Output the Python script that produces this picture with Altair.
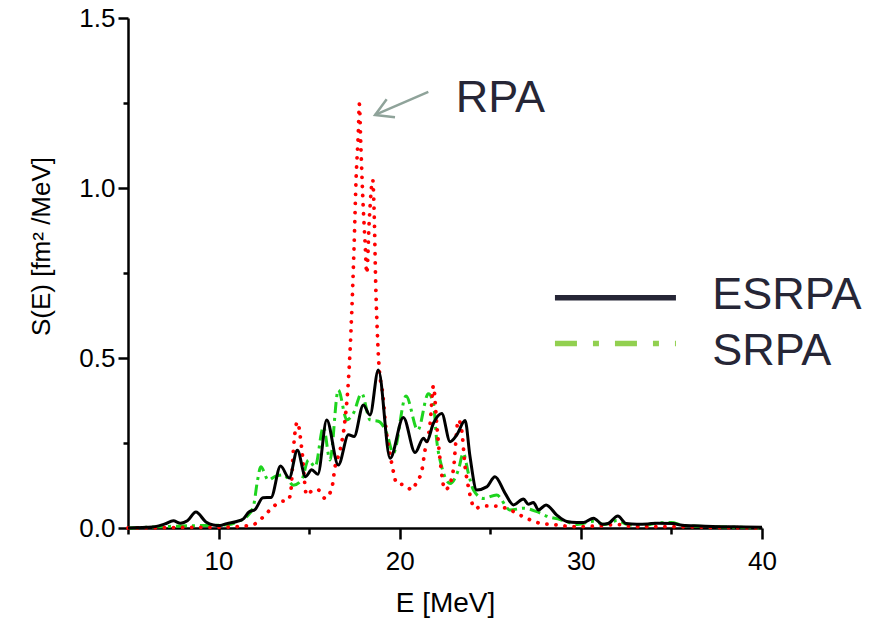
import altair as alt
import pandas as pd

# ---------------- data ----------------
E_ESRPA = [5.0, 6.0, 6.5, 7.04, 7.5, 7.9, 8.28, 8.75, 9.3, 9.71, 10.08, 10.45, 11.0, 11.37,
           11.68, 12.01, 12.45, 12.9, 13.42, 13.9, 14.35, 14.8, 15.14, 15.48, 15.97, 16.61,
           17.17, 17.48, 17.99, 18.36, 18.82, 19.47, 20.2, 20.85, 21.31, 21.49, 21.86, 22.32,
           22.78, 23.15, 23.61, 23.88, 24.25, 24.8, 25.26, 25.82, 26.28, 26.83, 27.1, 27.38,
           27.66, 28.08, 28.67, 29.22, 29.78, 30.15, 30.7, 31.2, 31.5, 32.04, 32.5, 33.1,
           33.7, 34.2, 35.1, 35.6, 36.6, 37.7, 39.0, 40.0]
S_ESRPA = [0.0, 0.002, 0.004, 0.012, 0.021, 0.014, 0.021, 0.047, 0.018, 0.009, 0.007, 0.013,
           0.019, 0.027, 0.047, 0.054, 0.089, 0.09, 0.182, 0.147, 0.229, 0.151, 0.171, 0.158,
           0.318, 0.185, 0.274, 0.269, 0.362, 0.332, 0.465, 0.205, 0.325, 0.222, 0.264, 0.254,
           0.308, 0.337, 0.254, 0.274, 0.316, 0.21, 0.112, 0.121, 0.151, 0.102, 0.068, 0.085,
           0.07, 0.075, 0.053, 0.068, 0.038, 0.019, 0.016, 0.016, 0.029, 0.011, 0.013, 0.035,
           0.013, 0.011, 0.012, 0.014, 0.013, 0.008, 0.006, 0.004, 0.003, 0.002]

E_SRPA = [5.0, 6.0, 7.0, 8.0, 9.0, 10.0, 10.6, 11.1, 11.55, 11.92, 12.15, 12.33, 12.75, 13.1,
          13.6, 14.13, 14.59, 14.96, 15.33, 15.79, 16.15, 16.61, 17.08, 17.44, 17.9, 18.36,
          18.82, 19.28, 19.65, 20.35, 21.0, 21.58, 21.86, 22.04, 22.32, 22.78, 23.24, 23.51,
          23.79, 24.07, 24.62, 25.35, 26.09, 26.83, 27.57, 28.21, 28.85, 29.4, 29.8, 30.7,
          31.3, 32.0, 32.6, 33.5, 34.3, 35.0, 35.6, 36.5, 38.0, 40.0]
S_SRPA = [0.0, 0.002, 0.004, 0.006, 0.007, 0.008, 0.01, 0.02, 0.033, 0.063, 0.14, 0.18,
          0.141, 0.151, 0.156, 0.126, 0.141, 0.2, 0.18, 0.298, 0.2, 0.406, 0.318, 0.337,
          0.396, 0.318, 0.314, 0.279, 0.22, 0.388, 0.288, 0.395, 0.367, 0.259, 0.18, 0.131,
          0.171, 0.22, 0.161, 0.112, 0.087, 0.097, 0.053, 0.058, 0.048, 0.033, 0.025, 0.015,
          0.01, 0.02, 0.01, 0.022, 0.01, 0.008, 0.015, 0.016, 0.008, 0.005, 0.003, 0.0]

E_RPA = [5.0, 7.0, 9.0, 10.0, 11.0, 11.5, 12.01, 12.47, 12.93, 13.39, 13.85, 14.0, 14.13,
         14.35, 14.59, 14.86, 15.23, 15.5, 15.88, 16.25, 16.43, 16.71, 16.98, 17.17, 17.35,
         17.48, 17.59, 17.72, 17.77, 17.85, 17.96, 18.09, 18.18, 18.32, 18.51, 18.6, 18.67,
         18.76, 18.86, 19.06, 19.25, 19.43, 19.65, 19.83, 20.3, 20.67, 20.94, 21.21, 21.4,
         21.68, 21.86, 22.04, 22.23, 22.5, 22.78, 22.96, 23.24, 23.42, 23.61, 23.79, 24.16,
         24.62, 25.08, 25.54, 26.09, 26.83, 27.75, 28.5, 29.6, 31.0, 32.0, 33.0, 35.0, 37.0,
         40.0]
S_RPA = [0.0, 0.001, 0.002, 0.002, 0.004, 0.006, 0.012, 0.033, 0.058, 0.077, 0.082, 0.114,
         0.229, 0.312, 0.234, 0.097, 0.112, 0.112, 0.087, 0.117, 0.18, 0.229, 0.318, 0.435,
         0.631, 0.827, 1.024, 1.171, 1.247, 1.131, 0.974, 0.837, 0.749, 0.906, 1.024, 0.906,
         0.729, 0.582, 0.474, 0.396, 0.288, 0.229, 0.166, 0.131, 0.126, 0.112, 0.136, 0.166,
         0.23, 0.308, 0.418, 0.308, 0.2, 0.112, 0.131, 0.171, 0.318, 0.288, 0.18, 0.121,
         0.058, 0.065, 0.065, 0.063, 0.053, 0.033, 0.014, 0.01, 0.004, 0.006, 0.01, 0.004,
         0.004, 0.002, 0.0]

X_TICKS = [5, 10, 15, 20, 25, 30, 35, 40]
Y_TICKS = [0, 0.25, 0.5, 0.75, 1.0, 1.25, 1.5]

LEGEND_LABELS = ["ESRPA", "SRPA"]
ANNOT_LABEL = "RPA"

# ---------------- tables ----------------
df_es = pd.DataFrame({"E": E_ESRPA, "S": S_ESRPA})
df_s = pd.DataFrame({"E": E_SRPA, "S": S_SRPA})
df_r = pd.DataFrame({"E": E_RPA, "S": S_RPA})

# annotation anchors in data units
leg_black = pd.DataFrame({"E": [28.57, 35.25], "S": [0.677, 0.677]})
leg_green = pd.DataFrame({"E": [28.57, 35.25], "S": [0.543, 0.543]})
leg_text = pd.DataFrame({"E": [37.25, 37.25], "S": [0.644, 0.479], "t": LEGEND_LABELS})
rpa_text = pd.DataFrame({"E": [23.1], "S": [1.224], "t": [ANNOT_LABEL]})
arrow_shaft = pd.DataFrame({"E": [21.58, 18.64], "S": [1.283, 1.215], "o": [0, 1]})
arrow_head = pd.DataFrame({"E": [19.28, 18.64, 19.74], "S": [1.261, 1.215, 1.208], "o": [0, 1, 2]})

x_scale = alt.Scale(domain=[5, 40], nice=False, zero=False)
y_scale = alt.Scale(domain=[0, 1.5], nice=False, zero=False)

x_axis = alt.Axis(
    values=X_TICKS,
    labelExpr="datum.value % 10 === 0 ? format(datum.value, 'd') : ''",
    tickSize={"condition": {"test": "datum.value % 10 === 0", "value": 11}, "value": 6},
    labelFont="Liberation Sans", labelFontSize=26, labelPadding=9,
    titleFont="Liberation Sans", titleFontSize=28, titleFontWeight="normal",
    titlePadding=15,
    domainColor="black", tickColor="black", labelColor="black", titleColor="black",
    domainWidth=2.5, tickWidth=2.5, grid=False, labelFlush=False, labelOverlap=False,
)
y_axis = alt.Axis(
    values=Y_TICKS,
    labelExpr="datum.value % 0.5 === 0 ? format(datum.value, '.1f') : ''",
    tickSize={"condition": {"test": "datum.value % 0.5 === 0", "value": 10}, "value": 5},
    labelFont="Liberation Sans", labelFontSize=26, labelPadding=3,
    titleFont="Liberation Sans", titleFontSize=26, titleFontWeight="normal",
    titleX=-87, titleY=228, titleBaseline="middle", titleAlign="center", titleAngle=270,
    domainColor="black", tickColor="black", labelColor="black", titleColor="black",
    domainWidth=2.5, tickWidth=2.5, grid=False, labelFlush=False, labelOverlap=False,
)

X = alt.X("E:Q", scale=x_scale, axis=x_axis, title="E [MeV]")
Y = alt.Y("S:Q", scale=y_scale, axis=y_axis, title="S(E) [fm² /MeV]")

green = alt.Chart(df_s).mark_line(
    color="#1ed41e", strokeWidth=3, strokeDash=[11, 5, 3, 5], interpolate="monotone"
).encode(x=X, y=Y)

red = alt.Chart(df_r).mark_line(
    color="#ff0000", strokeWidth=3.8, strokeDash=[0.1, 9], strokeCap="round",
    interpolate="monotone"
).encode(x=X, y=Y)

black = alt.Chart(df_es).mark_line(
    color="#000000", strokeWidth=3, interpolate="monotone"
).encode(x=X, y=Y)

lb = alt.Chart(leg_black).mark_line(color="#262636", strokeWidth=5.5).encode(x=X, y=Y)
lg = alt.Chart(leg_green).mark_line(
    color="#92d050", strokeWidth=5.5, strokeDash=[22, 16, 6, 16]
).encode(x=X, y=Y)
lt = alt.Chart(leg_text).mark_text(
    align="left", baseline="alphabetic", font="Liberation Sans", fontSize=45, color="#262636"
).encode(x=X, y=Y, text="t:N")
rt = alt.Chart(rpa_text).mark_text(
    align="left", baseline="alphabetic", font="Liberation Sans", fontSize=45, color="#262636"
).encode(x=X, y=Y, text="t:N")
ash = alt.Chart(arrow_shaft).mark_line(color="#8fa39a", strokeWidth=2.5).encode(
    x=X, y=Y, order="o:Q")
ahd = alt.Chart(arrow_head).mark_line(color="#8fa39a", strokeWidth=2.5, strokeJoin="miter").encode(
    x=X, y=Y, order="o:Q")

chart = alt.layer(green, red, black, lb, lg, lt, rt, ash, ahd).properties(
    width=634, height=510,
    autosize=alt.AutoSizeParams(type="none"),
    padding={"left": 128, "top": 18, "right": 128, "bottom": 97},
    background="white",
).configure_view(stroke=None)

chart.save("out.html", embed_options={"renderer": "svg", "actions": False})
